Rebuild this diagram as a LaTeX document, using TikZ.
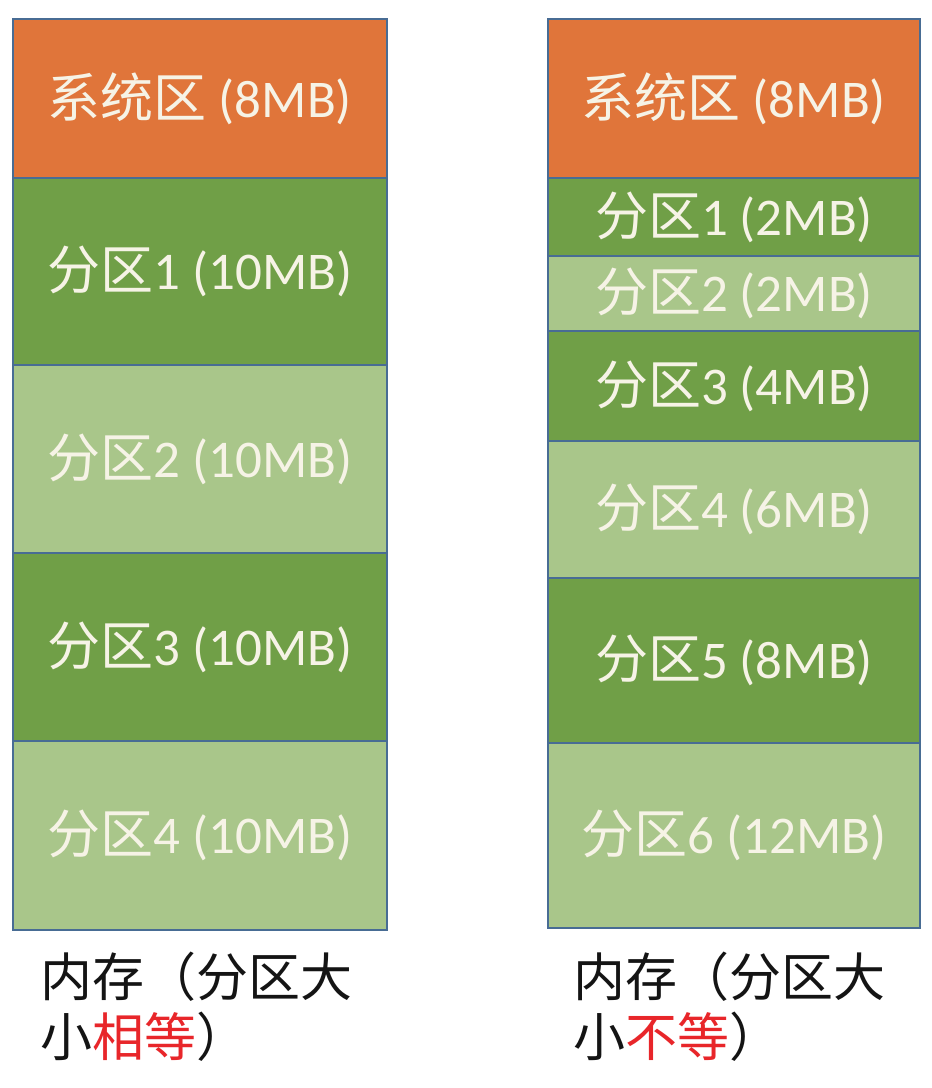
\documentclass[tikz,border=0pt]{standalone}
\usepackage{fontspec}
\setmainfont{Carlito}
\newfontfamily\cjk{Noto Sans CJK SC}
\definecolor{sysorange}{RGB}{224,117,58}
\definecolor{darkgreen}{RGB}{112,159,71}
\definecolor{lightgreen}{RGB}{169,198,138}
\definecolor{edgeblue}{RGB}{72,108,148}
\definecolor{labelwhite}{RGB}{246,243,230}
\definecolor{mark}{RGB}{232,38,42}
\begin{document}
\begin{tikzpicture}[x=1pt,y=-1pt,
  blk/.style={draw=edgeblue,line width=1.2pt,inner sep=0pt,
    text=labelwhite,font=\fontsize{53}{60}\selectfont},
  lcol/.style={blk,minimum width=374pt},
  rcol/.style={blk,minimum width=372pt},
  caption/.style={anchor=north west,inner sep=0pt,align=left,
    font=\cjk\fontsize{52}{60}\selectfont,text=black!92}]
\useasboundingbox (0,0) rectangle (932,1088);

% fixed partitions, all of equal size
\node[lcol,fill=sysorange,  minimum height=159pt] (L0) at (200,98.5)  {{\cjk 系统区} (8MB)};
\node[lcol,fill=darkgreen,  minimum height=187pt] (L1) at (200,271.5) {{\cjk 分区}1 (10MB)};
\node[lcol,fill=lightgreen, minimum height=188pt] (L2) at (200,459)   {{\cjk 分区}2 (10MB)};
\node[lcol,fill=darkgreen,  minimum height=188pt] (L3) at (200,647)   {{\cjk 分区}3 (10MB)};
\node[lcol,fill=lightgreen, minimum height=189pt] (L4) at (200,835.5) {{\cjk 分区}4 (10MB)};

% fixed partitions of different sizes
\node[rcol,fill=sysorange,  minimum height=159pt] (R0) at (734,98.5)  {{\cjk 系统区} (8MB)};
\node[rcol,fill=darkgreen,  minimum height=78pt]  (R1) at (734,217)   {{\cjk 分区}1 (2MB)};
\node[rcol,fill=lightgreen, minimum height=75pt]  (R2) at (734,293.5) {{\cjk 分区}2 (2MB)};
\node[rcol,fill=darkgreen,  minimum height=110pt] (R3) at (734,386)   {{\cjk 分区}3 (4MB)};
\node[rcol,fill=lightgreen, minimum height=137pt] (R4) at (734,509.5) {{\cjk 分区}4 (6MB)};
\node[rcol,fill=darkgreen,  minimum height=165pt] (R5) at (734,660.5) {{\cjk 分区}5 (8MB)};
\node[rcol,fill=lightgreen, minimum height=185pt] (R6) at (734,835.5) {{\cjk 分区}6 (12MB)};

% captions
\node[caption] (capL) at (40,952)  {内存（分区大\\小\textcolor{mark}{相等}）};
\node[caption] (capR) at (573,952) {内存（分区大\\小\textcolor{mark}{不等}）};
\end{tikzpicture}
\end{document}
